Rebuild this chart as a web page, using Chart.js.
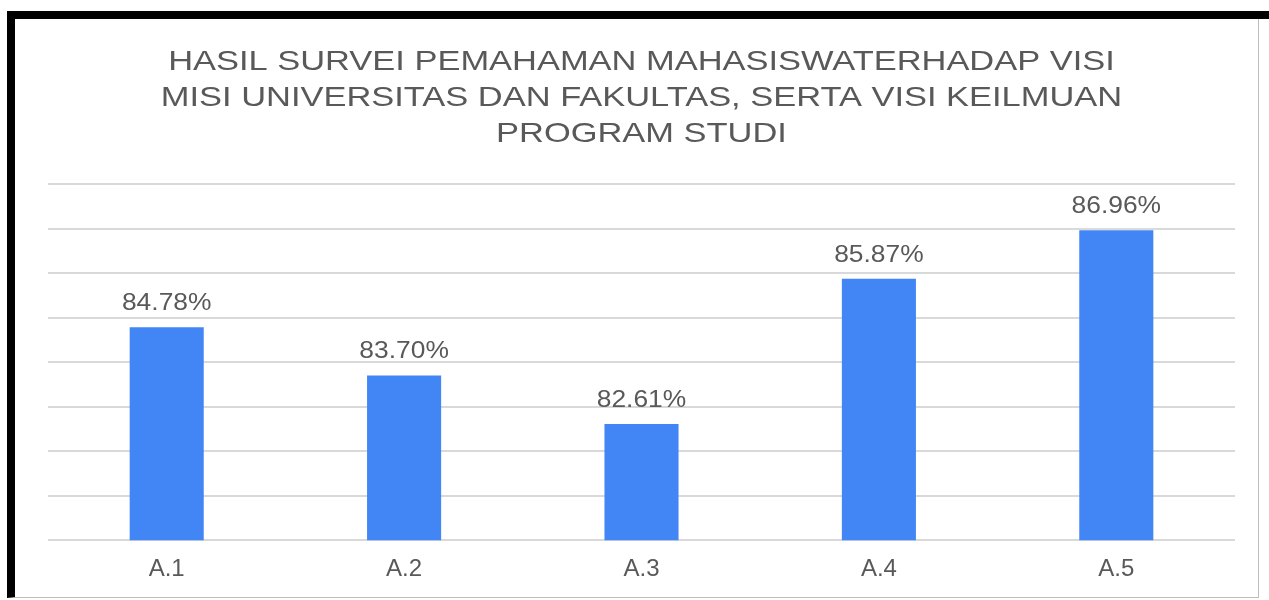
<!DOCTYPE html>
<html>
<head>
<meta charset="utf-8">
<script src="https://cdn.jsdelivr.net/npm/chart.js@4.4.0/dist/chart.umd.min.js"></script>
<style>
  body { margin: 0; background: #fff; width: 1269px; height: 600px; overflow: hidden; position: relative; }
  #topBar { position: absolute; left: 7px; top: 11px; width: 1262px; height: 8px; background: #000; }
  #frame { position: absolute; left: 7px; top: 19px; width: 1243px; height: 578px;
           border-left: 8px solid #000; border-right: 1px solid #bdbdbd; border-bottom: 1px solid #bdbdbd; }
  #wrap { position: absolute; left: 15px; top: 19px; width: 1243px; height: 578px; }
</style>
</head>
<body>
<div id="topBar"></div>
<div id="frame"></div>
<div id="wrap"><canvas id="myChart"></canvas></div>
<script>
  // survey data
  var categories = ["A.1", "A.2", "A.3", "A.4", "A.5"];
  var percentValues = [84.78, 83.70, 82.61, 85.87, 86.96];
  var titleLines = [
    "HASIL SURVEI PEMAHAMAN MAHASISWATERHADAP VISI",
    "MISI UNIVERSITAS DAN FAKULTAS, SERTA VISI KEILMUAN",
    "PROGRAM STUDI"
  ];
  var yMin = 80, yMax = 88;

  var textColor = "#595959";
  var fontName = "'Liberation Sans', Arial, sans-serif";

  // the original text is a bit wider than Arial, so stretch it sideways
  function wideText(ctx, text, x, y, stretch) {
    ctx.save();
    ctx.translate(x, y);
    ctx.scale(stretch, 1);
    ctx.fillText(text, 0, 0);
    ctx.restore();
  }

  var titleAndLabels = {
    id: "titleAndLabels",
    afterDatasetsDraw: function (chart) {
      var ctx = chart.ctx;
      var area = chart.chartArea;
      var midX = (area.left + area.right) / 2;
      ctx.save();
      ctx.fillStyle = textColor;
      ctx.textAlign = "center";

      // title
      ctx.font = "28px " + fontName;
      ctx.textBaseline = "middle";
      titleLines.forEach(function (line, i) {
        wideText(ctx, line, midX, 43 + i * 36, 1.23);
      });

      // values above bars
      ctx.font = "24px " + fontName;
      ctx.textBaseline = "alphabetic";
      var meta = chart.getDatasetMeta(0);
      meta.data.forEach(function (bar, i) {
        wideText(ctx, percentValues[i].toFixed(2) + "%", bar.x, bar.y - 17, 1.1);
      });
      ctx.restore();
    }
  };

  new Chart("myChart", {
    type: "bar",
    data: {
      labels: categories,
      datasets: [{
        data: percentValues,
        backgroundColor: "#4285F4",
        barPercentage: 0.312,
        categoryPercentage: 1
      }]
    },
    options: {
      responsive: true,
      maintainAspectRatio: false,
      animation: false,
      layout: { padding: { left: 33, right: 23, top: 165, bottom: -2 } },
      plugins: {
        legend: { display: false },
        tooltip: { enabled: false },
        title: { display: false }
      },
      scales: {
        x: {
          grid: { display: false, drawTicks: false },
          border: { display: false },
          ticks: { color: textColor, font: { family: fontName, size: 24 }, padding: 15 }
        },
        y: {
          min: yMin,
          max: yMax,
          ticks: { display: false, stepSize: 1 },
          grid: { color: "#d9d9d9", lineWidth: 2, drawTicks: false },
          border: { display: false }
        }
      }
    },
    plugins: [titleAndLabels]
  });
</script>
</body>
</html>
